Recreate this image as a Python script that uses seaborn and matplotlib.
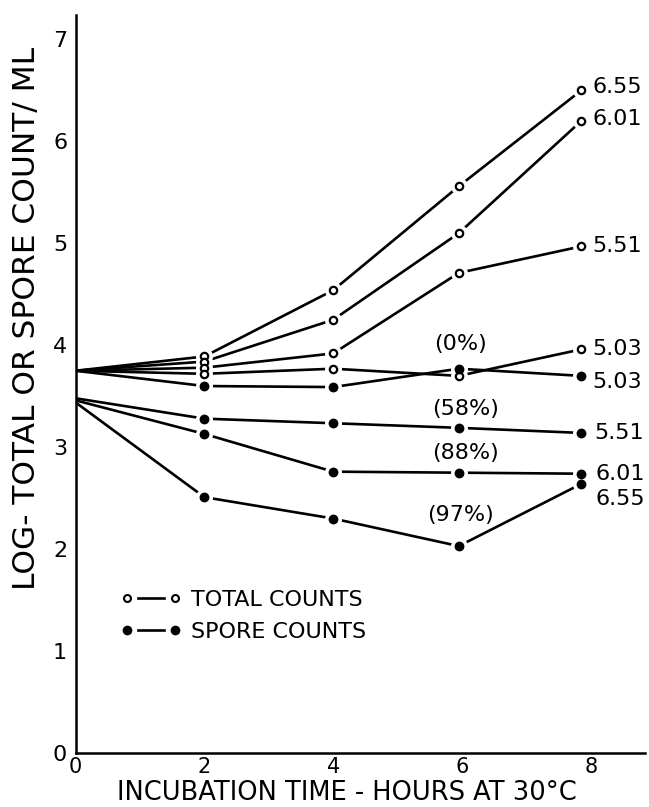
import matplotlib
matplotlib.use("Agg")
import matplotlib.pyplot as plt
import numpy as np
import pandas as pd
import seaborn as sns
from matplotlib.lines import Line2D
from matplotlib.legend_handler import HandlerTuple

# ---------------- data ----------------
hours = [0, 2, 4, 5.95, 7.85]

total_labels = ["6.55", "6.01", "5.51", "5.03"]
total_655 = [3.75, 3.89, 4.54, 5.56, 6.50]
total_601 = [3.75, 3.84, 4.25, 5.10, 6.20]
total_551 = [3.75, 3.78, 3.92, 4.71, 4.97]
total_503 = [3.75, 3.72, 3.77, 3.70, 3.96]

spore_labels = ["5.03", "5.51", "6.01", "6.55"]
spore_pct = ["(0%)", "(58%)", "(88%)", "(97%)"]
spore_503 = [3.75, 3.60, 3.59, 3.77, 3.70]
spore_551 = [3.48, 3.28, 3.235, 3.19, 3.14]
spore_601 = [3.46, 3.13, 2.76, 2.75, 2.74]
spore_655 = [3.44, 2.51, 2.30, 2.03, 2.64]

x_ticks = [0, 2, 4, 6, 8]
y_ticks = [0, 1, 2, 3, 4, 5, 6, 7]
x_title = "INCUBATION TIME - HOURS AT 30°C"
y_title = "LOG- TOTAL OR SPORE COUNT/ ML"
legend_labels = ["TOTAL COUNTS", "SPORE COUNTS"]

# ---------------- long table ----------------
rows = []
for name, vals in zip(total_labels, [total_655, total_601, total_551, total_503]):
    for h, v in zip(hours, vals):
        rows.append(dict(series="T" + name, kind="total", hours=h, value=v))
for name, vals in zip(spore_labels, [spore_503, spore_551, spore_601, spore_655]):
    for h, v in zip(hours, vals):
        rows.append(dict(series="S" + name, kind="spore", hours=h, value=v))
df = pd.DataFrame(rows)

# ---------------- style ----------------
sns.set_style("white")
plt.rcParams["font.family"] = ["DejaVu Sans"]
plt.rcParams["axes.linewidth"] = 1.8
plt.rcParams["text.color"] = "black"
plt.rcParams["axes.edgecolor"] = "black"
plt.rcParams["xtick.color"] = "black"
plt.rcParams["ytick.color"] = "black"
plt.rcParams["axes.labelcolor"] = "black"

fig = plt.figure(figsize=(6.49, 8.07), dpi=100)
ax = fig.add_axes([75.5 / 649, 54 / 807, 569.5 / 649, 738 / 807])

series_order = list(df["series"].unique())
black = {s: "black" for s in series_order}

sns.lineplot(data=df, x="hours", y="value", hue="series", units="series",
             estimator=None, palette=black, linewidth=1.9, legend=False,
             sort=False, ax=ax, zorder=2)
# markers only where a measurement is drawn (not at time zero)
pts = df[df["hours"] > 0]
# white halos make the little gaps between lines and markers
sns.scatterplot(data=pts, x="hours", y="value", color="white", s=150,
                linewidth=0, legend=False, ax=ax, zorder=3)
tot = pts[pts["kind"] == "total"]
spo = pts[pts["kind"] == "spore"]
sns.scatterplot(data=tot, x="hours", y="value", marker="o", s=28,
                facecolor="white", edgecolor="black", linewidth=1.6,
                legend=False, ax=ax, zorder=4)
sns.scatterplot(data=spo, x="hours", y="value", marker="o", s=50,
                color="black", linewidth=0, legend=False, ax=ax, zorder=5)

# end labels
tot_offsets = [(11, 3), (11, 2), (11, 0), (11, 0)]
for name, vals, off in zip(total_labels, [total_655, total_601, total_551, total_503], tot_offsets):
    ax.annotate(name, (hours[-1], vals[-1]), xytext=off, textcoords="offset pixels",
                ha="left", va="center", fontsize=16)
spo_offsets = [(11, -6), (13, 0), (14, 0), (14, -15)]
for name, vals, off in zip(spore_labels, [spore_503, spore_551, spore_601, spore_655], spo_offsets):
    ax.annotate(name, (hours[-1], vals[-1]), xytext=off, textcoords="offset pixels",
                ha="left", va="center", fontsize=16)
pct_offsets = [(2, 25), (7, 19), (7, 20), (2, 31)]
for pct, vals, off in zip(spore_pct, [spore_503, spore_551, spore_601, spore_655], pct_offsets):
    ax.annotate(pct, (hours[3], vals[3]), xytext=off, textcoords="offset pixels",
                ha="center", va="center", fontsize=16)

# axes
ax.set_xlim(0, 8.84)
ax.set_ylim(0, 7.24)
ax.set_xticks(x_ticks)
ax.set_yticks(y_ticks)
ax.set_xticklabels([str(t) for t in x_ticks])
ax.set_yticklabels([str(t) for t in y_ticks])
ax.tick_params(direction="in", length=5, width=1.6, labelsize=16, pad=6)
ax.tick_params(axis="x", labelsize=15, pad=3)
for side in ["top", "right"]:
    ax.spines[side].set_visible(False)
ax.set_xlabel("")
ax.set_ylabel("")

fig.text(347 / 649, 1.5 / 807, x_title, ha="center", va="bottom", fontsize=18.5)
fig.text(27 / 649, 1 - 318 / 807, y_title, ha="center", va="center",
         rotation=90, fontsize=22.5)

# legend
def handle(filled):
    ln = Line2D([], [], color="black", linewidth=1.9)
    halo = Line2D([], [], linestyle="none", marker="o", markersize=14,
                  markerfacecolor="white", markeredgecolor="white", markeredgewidth=0)
    if filled:
        mk = Line2D([], [], linestyle="none", marker="o", markersize=7,
                    markerfacecolor="black", markeredgecolor="black", markeredgewidth=0)
    else:
        mk = Line2D([], [], linestyle="none", marker="o", markersize=5,
                    markerfacecolor="white", markeredgecolor="black", markeredgewidth=1.5)
    return (ln, halo, mk)

leg = ax.legend([handle(False), handle(True)], legend_labels,
                handler_map={tuple: HandlerTuple(ndivide=1, pad=0)},
                numpoints=2, handlelength=2.76, handletextpad=0.45,
                labelspacing=0.55, borderpad=0, borderaxespad=0, frameon=False,
                fontsize=16, loc="upper left",
                bbox_to_anchor=(120 / 649, 1 - 590 / 807),
                bbox_transform=fig.transFigure)

fig.savefig("out.png", dpi=100)
